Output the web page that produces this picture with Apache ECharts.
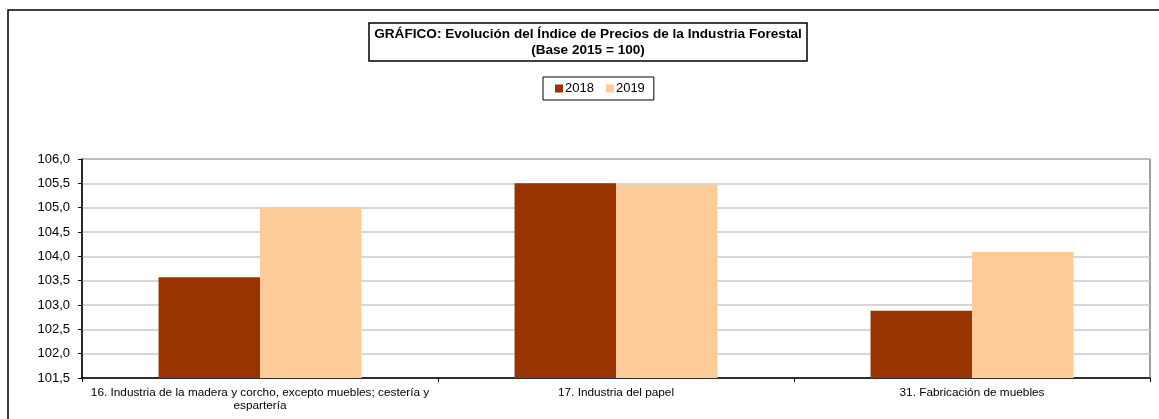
<!DOCTYPE html>
<html><head><meta charset="utf-8">
<script src="https://cdn.jsdelivr.net/npm/echarts@6/dist/echarts.min.js"></script>
<style>html,body{margin:0;padding:0;background:#fff}#c{width:1159px;height:419px}</style>
</head><body><div id="c"></div>
<script>
const categories = [
  "16. Industria de la madera y corcho, excepto muebles; cestería y\nespartería",
  "17. Industria del papel",
  "31. Fabricación de muebles"
];
const seriesNames = ["2018", "2019"];
const values2018 = [103.57, 105.5, 102.88];
const values2019 = [105.0, 105.47, 104.09];
const colors = ["#993300", "#FFCC99"];

const chart = echarts.init(document.getElementById('c'), null, {renderer: 'canvas'});
const font = 'Arial, "Liberation Sans", sans-serif';
chart.setOption({
  animation: false,
  backgroundColor: '#fff',
  graphic: [{
    type: 'rect', silent: true, z: -10,
    shape: {x: 8, y: 10, width: 1200, height: 500},
    style: {fill: 'none', stroke: '#000', lineWidth: 1.5}
  }],
  title: {
    text: 'GRÁFICO: Evolución del Índice de Precios de la Industria Forestal\n(Base 2015 = 100)',
    left: 583, top: 23,
    padding: [3, 5, 3, 5],
    borderColor: '#000', borderWidth: 1.5,
    textAlign: 'center',
    textStyle: {fontFamily: font, fontSize: 13.6, fontWeight: 'bold', color: '#000', lineHeight: 16}
  },
  legend: {
    data: seriesNames,
    left: 543, top: 77,
    icon: 'rect',
    padding: [5, 9, 5, 12],
    itemWidth: 8, itemHeight: 8, itemGap: 12,
    borderColor: '#000', borderWidth: 1,
    textStyle: {fontFamily: font, fontSize: 13, color: '#000', padding: [0, 0, 0, -3]}
  },
  grid: {left: 82, right: 9, top: 159, bottom: 41, show: true, borderColor: '#404040', borderWidth: 1},
  xAxis: {
    type: 'category', data: categories,
    axisLine: {lineStyle: {color: '#000', width: 1.5}},
    axisTick: {show: true, length: 4, lineStyle: {color: '#000'}},
    axisLabel: {fontFamily: font, fontSize: 11.8, color: '#000', margin: 8, lineHeight: 13, interval: 0}
  },
  yAxis: {
    type: 'value', min: 101.5, max: 106, interval: 0.5,
    axisLine: {show: true, lineStyle: {color: '#000', width: 1.5}},
    axisTick: {show: true, length: 4, lineStyle: {color: '#000'}},
    splitLine: {lineStyle: {color: '#c8c8c8', width: 1.5}},
    axisLabel: {fontFamily: font, fontSize: 13, color: '#000', margin: 12,
      formatter: v => v.toFixed(1).replace('.', ',')}
  },
  series: [
    {name: seriesNames[0], type: 'bar', data: values2018, itemStyle: {color: colors[0]}, barGap: '0%', barCategoryGap: '43%'},
    {name: seriesNames[1], type: 'bar', data: values2019, itemStyle: {color: colors[1]}, barGap: '0%', barCategoryGap: '43%'}
  ]
});
</script></body></html>
